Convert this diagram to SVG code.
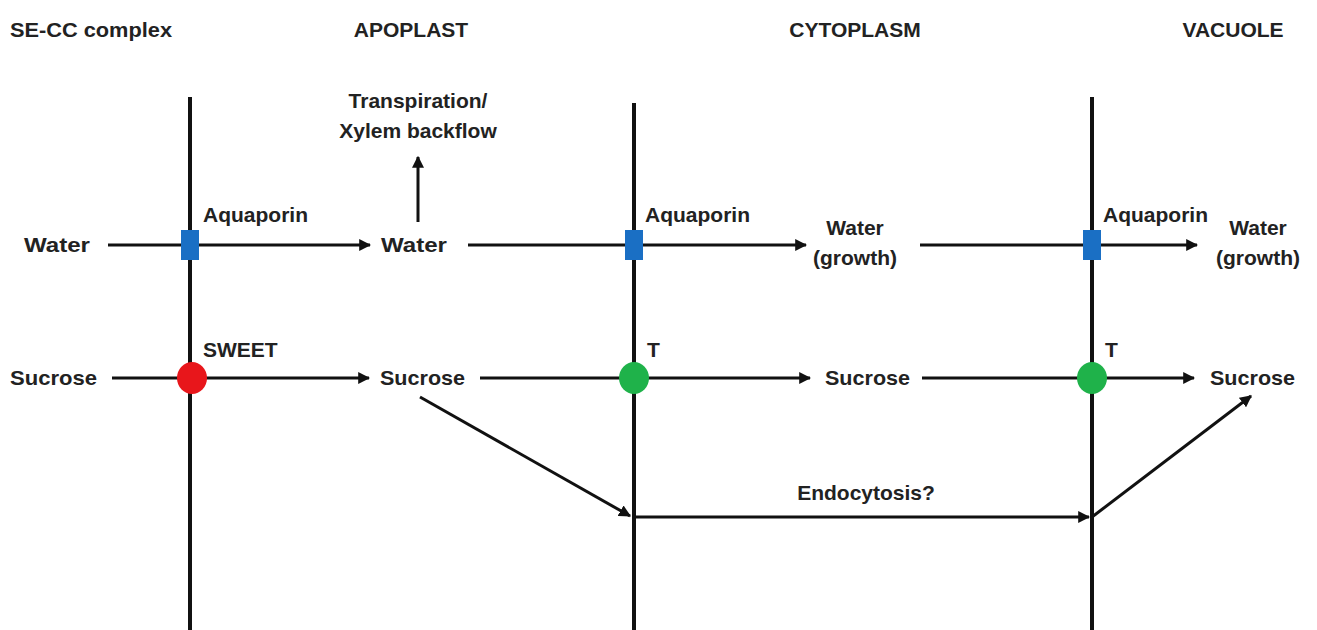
<svg xmlns="http://www.w3.org/2000/svg" width="1317" height="630" viewBox="0 0 1317 630">
<style>
text{font-family:"Liberation Sans",Arial,sans-serif;font-weight:bold;font-size:21px;fill:#222}
.h{text-anchor:middle}
.m{stroke:#111;stroke-width:4;fill:none}
.c{stroke:#111;stroke-width:3;fill:none}
.a{marker-end:url(#ah)}
.aq{fill:#1a6fc4}
.sw{fill:#e8161b}
.t{fill:#1fb24a}
</style>
<defs>
<marker id="ah" viewBox="0 0 10 10" refX="9" refY="5" markerWidth="4" markerHeight="4" orient="auto" markerUnits="strokeWidth">
<path d="M0,0L10,5L0,10z" fill="#111"/>
</marker>
</defs>
<rect width="1317" height="630" fill="#fff"/>
<g id="headers">
<text x="10" y="37" textLength="162" lengthAdjust="spacingAndGlyphs">SE-CC complex</text>
<text class="h" x="411" y="37">APOPLAST</text>
<text class="h" x="855" y="37">CYTOPLASM</text>
<text class="h" x="1233" y="37">VACUOLE</text>
</g>
<g id="membranes">
<line class="m" x1="190" y1="97" x2="190" y2="630"/>
<line class="m" x1="634" y1="103" x2="634" y2="630"/>
<line class="m" x1="1092" y1="97" x2="1092" y2="630"/>
</g>
<g id="connectors">
<line class="c a" x1="418" y1="222" x2="418" y2="157"/>
<line class="c a" x1="108" y1="245" x2="370" y2="245"/>
<line class="c a" x1="468" y1="245" x2="806" y2="245"/>
<line class="c a" x1="920" y1="245" x2="1197" y2="245"/>
<line class="c a" x1="112" y1="378" x2="369" y2="378"/>
<line class="c a" x1="480" y1="378" x2="810" y2="378"/>
<line class="c a" x1="922" y1="378" x2="1194" y2="378"/>
<line class="c a" x1="420" y1="397" x2="630" y2="516"/>
<line class="c a" x1="634" y1="517" x2="1089" y2="517"/>
<line class="c a" x1="1092" y1="517" x2="1251" y2="396"/>
</g>
<g id="transpiration">
<text class="h" x="418" y="108">Transpiration/</text>
<text class="h" x="418" y="138">Xylem backflow</text>
</g>
<g id="water-se"><text x="24" y="252" textLength="66" lengthAdjust="spacingAndGlyphs">Water</text></g>
<g id="aquaporin-1"><rect class="aq" x="181" y="230" width="18" height="30"/><text x="203" y="222">Aquaporin</text></g>
<g id="water-apo"><text x="381" y="252" textLength="66" lengthAdjust="spacingAndGlyphs">Water</text></g>
<g id="aquaporin-2"><rect class="aq" x="625" y="230" width="18" height="30"/><text x="645" y="222">Aquaporin</text></g>
<g id="water-cyto"><text class="h" x="855" y="235">Water</text><text class="h" x="855" y="265">(growth)</text></g>
<g id="aquaporin-3"><rect class="aq" x="1083" y="230" width="18" height="30"/><text x="1103" y="222">Aquaporin</text></g>
<g id="water-vac"><text class="h" x="1258" y="235">Water</text><text class="h" x="1258" y="265">(growth)</text></g>
<g id="sucrose-se"><text x="10" y="385" textLength="87" lengthAdjust="spacingAndGlyphs">Sucrose</text></g>
<g id="sweet"><ellipse class="sw" cx="192" cy="378" rx="15" ry="16"/><text x="203" y="357">SWEET</text></g>
<g id="sucrose-apo"><text x="380" y="385" textLength="85" lengthAdjust="spacingAndGlyphs">Sucrose</text></g>
<g id="t-1"><ellipse class="t" cx="634" cy="378" rx="15" ry="16"/><text x="647" y="357">T</text></g>
<g id="sucrose-cyto"><text x="825" y="385" textLength="85" lengthAdjust="spacingAndGlyphs">Sucrose</text></g>
<g id="t-2"><ellipse class="t" cx="1092" cy="378" rx="15" ry="16"/><text x="1105" y="357">T</text></g>
<g id="sucrose-vac"><text x="1210" y="385" textLength="85" lengthAdjust="spacingAndGlyphs">Sucrose</text></g>
<g id="endocytosis"><text class="h" x="866" y="500">Endocytosis?</text></g>
</svg>
